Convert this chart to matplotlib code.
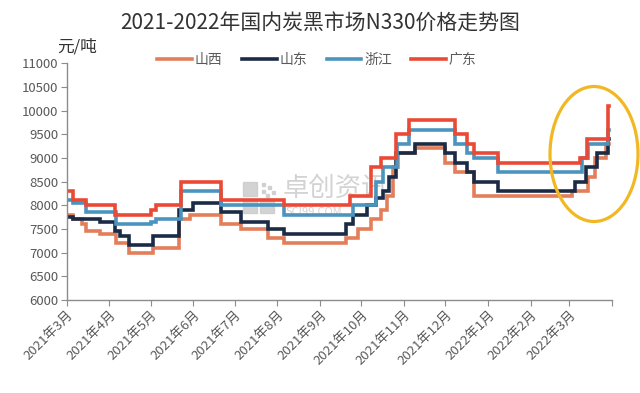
import numpy as np
import pandas as pd
import matplotlib
matplotlib.use('Agg')
import matplotlib.pyplot as plt
from matplotlib.patches import Ellipse, Rectangle

plt.rcParams['font.family'] = ['Noto Sans CJK SC', 'DejaVu Sans']

# price change points (date, yuan/ton)
sx_dates = ['2021-03-01', '2021-03-06', '2021-03-12', '2021-03-15', '2021-03-25', '2021-04-06',
            '2021-04-15', '2021-05-03', '2021-05-22', '2021-05-30', '2021-06-21', '2021-07-06',
            '2021-07-25', '2021-08-06', '2021-09-20', '2021-09-29', '2021-10-08', '2021-10-15',
            '2021-10-20', '2021-10-24', '2021-10-28', '2021-11-09', '2021-12-01', '2021-12-08',
            '2021-12-22', '2022-03-03', '2022-03-15', '2022-03-20', '2022-03-28', '2022-03-30']
sx_vals = [7800, 7700, 7600, 7450, 7400, 7200,
           7000, 7100, 7700, 7800, 7600, 7500,
           7300, 7200, 7300, 7500, 7700, 7900,
           8200, 8800, 9100, 9200, 8900, 8700,
           8200, 8300, 8600, 9000, 9300, 9300]

sd_dates = ['2021-03-01', '2021-03-06', '2021-03-25', '2021-04-05', '2021-04-09', '2021-04-15',
            '2021-05-03', '2021-05-22', '2021-06-01', '2021-06-21', '2021-07-06', '2021-07-25',
            '2021-08-06', '2021-09-20', '2021-09-25', '2021-10-05', '2021-10-12', '2021-10-17',
            '2021-10-21', '2021-10-26', '2021-11-09', '2021-12-01', '2021-12-08', '2021-12-17',
            '2021-12-22', '2022-01-08', '2022-03-05', '2022-03-13', '2022-03-21', '2022-03-29',
            '2022-03-30']
sd_vals = [7750, 7700, 7650, 7450, 7350, 7150,
           7350, 7900, 8050, 7850, 7650, 7500,
           7400, 7600, 7800, 8000, 8150, 8300,
           8600, 9100, 9300, 9100, 8900, 8700,
           8500, 8300, 8500, 8800, 9100, 9400,
           9400]

zj_dates = ['2021-03-01', '2021-03-06', '2021-03-15', '2021-04-06', '2021-05-01', '2021-05-05',
            '2021-05-23', '2021-06-21', '2021-08-06', '2021-09-25', '2021-10-12', '2021-10-17',
            '2021-10-27', '2021-11-05', '2021-12-08', '2021-12-17', '2021-12-22', '2022-01-08',
            '2022-03-10', '2022-03-15', '2022-03-29', '2022-03-30']
zj_vals = [8100, 8050, 7850, 7600, 7650, 7700,
           8300, 8000, 7800, 8000, 8500, 8800,
           9300, 9600, 9300, 9100, 9000, 8700,
           9000, 9300, 9600, 9600]

gd_dates = ['2021-03-01', '2021-03-06', '2021-03-15', '2021-04-05', '2021-05-01', '2021-05-05',
            '2021-05-23', '2021-06-21', '2021-08-06', '2021-09-23', '2021-10-08', '2021-10-15',
            '2021-10-26', '2021-11-05', '2021-12-08', '2021-12-17', '2021-12-22', '2022-01-08',
            '2022-03-09', '2022-03-14', '2022-03-29', '2022-03-30']
gd_vals = [8300, 8100, 8000, 7800, 7900, 8000,
           8500, 8100, 8000, 8200, 8800, 9000,
           9500, 9800, 9500, 9300, 9100, 8900,
           9000, 9400, 10100, 10100]

names = ['山西', '山东', '浙江', '广东']
colors = ['#E47E5A', '#1C2B45', '#4B94BE', '#EA4A35']

tick_dates = ['2021-03-01', '2021-04-01', '2021-05-01', '2021-06-01', '2021-07-01', '2021-08-01',
              '2021-09-01', '2021-10-01', '2021-11-01', '2021-12-01', '2022-01-01', '2022-02-01',
              '2022-03-01', '2022-04-01']
tick_labels = ['2021年3月', '2021年4月', '2021年5月', '2021年6月', '2021年7月', '2021年8月',
               '2021年9月', '2021年10月', '2021年11月', '2021年12月', '2022年1月', '2022年2月',
               '2022年3月', '']

fig = plt.figure(figsize=(6.4, 3.93), dpi=100)
ax = fig.add_axes([0.104, 0.237, 0.852, 0.602])

# watermark behind the lines
wm = '#c9c9c9'
for (px, py) in [(243, 182), (243, 199), (260, 199)]:
    ax.add_patch(Rectangle((px / 640, 1 - (py + 14) / 393), 14 / 640, 14 / 393,
                           transform=fig.transFigure, color=wm, alpha=0.8, zorder=0.5))
for (px, py) in [(262, 183), (268, 186), (262, 190), (272, 191), (266, 194)]:
    ax.add_patch(Rectangle((px / 640, 1 - (py + 3) / 393), 3 / 640, 3 / 393,
                           transform=fig.transFigure, color=wm, alpha=0.8, zorder=0.5))
ax.text(283 / 640, 1 - 189 / 393, '卓创资讯', transform=fig.transFigure, fontsize=19,
        color=wm, alpha=0.8, va='center', ha='left', zorder=0.5)
ax.text(286 / 640, 1 - 212 / 393, 'SCI99.COM', transform=fig.transFigure, fontsize=8,
        color=wm, alpha=0.8, va='center', ha='left', zorder=0.5)

series = [(sx_dates, sx_vals), (sd_dates, sd_vals), (zj_dates, zj_vals), (gd_dates, gd_vals)]
for (d, v), name, c in zip(series, names, colors):
    ax.plot(pd.to_datetime(d), v, drawstyle='steps-post', color=c, lw=2.6,
            label=name, solid_joinstyle='miter')

ax.set_xlim(pd.Timestamp('2021-03-01'), pd.Timestamp('2022-04-01'))
ax.set_ylim(6000, 11000)
ax.set_yticks(np.arange(6000, 11001, 500))
ax.set_xticks(pd.to_datetime(tick_dates))
ax.set_xticklabels(tick_labels, rotation=45, ha='right', va='top', rotation_mode='anchor')

for s in ['top', 'right']:
    ax.spines[s].set_visible(False)
for s in ['left', 'bottom']:
    ax.spines[s].set_color('#8c8c8c')
    ax.spines[s].set_linewidth(1)
ax.tick_params(axis='both', direction='out', length=4, color='#8c8c8c',
               labelcolor='#595959', labelsize=9.5, pad=2)

fig.text(0.5, 1 - 24 / 393, '2021-2022年国内炭黑市场N330价格走势图',
         ha='center', va='center', fontsize=15, color='#333333')
fig.text(57 / 640, 1 - 47 / 393, '元/吨', ha='left', va='center', fontsize=12, color='#333333')

ax.legend(loc='center', bbox_to_anchor=(317 / 640, 1 - 60 / 393), bbox_transform=fig.transFigure,
          ncol=4, frameon=False, fontsize=10, handlelength=2.5, handletextpad=0.2,
          columnspacing=1.4, labelcolor='#595959')

ax.add_patch(Ellipse((594 / 640, 1 - 154 / 393), 88 / 640, 135 / 393, transform=fig.transFigure,
                     fill=False, edgecolor='#F2B824', lw=2.3, zorder=5, clip_on=False))

fig.savefig('out.png', dpi=100, facecolor='white')
